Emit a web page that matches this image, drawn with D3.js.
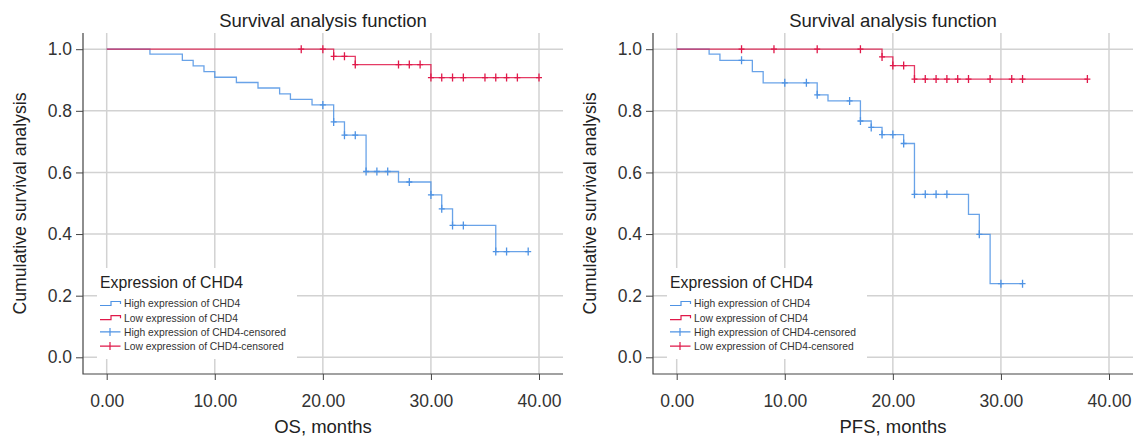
<!DOCTYPE html>
<html>
<head>
<meta charset="utf-8">
<script src="https://cdn.jsdelivr.net/npm/d3@7"></script>
<style>
  body { margin: 0; background: #fff; }
  svg { display: block; font-family: "Liberation Sans", Arial, sans-serif; }
</style>
</head>
<body>
<svg id="chart" width="1136" height="438"></svg>
<script>
// OS panel (left)
const osHighTime = [0, 4, 7, 8, 9, 10, 12, 14, 16, 17, 19, 21, 22, 24, 27, 30, 31, 32, 36]
const osHighSurv = [1, 0.984, 0.964, 0.946, 0.927, 0.909, 0.892, 0.874, 0.855, 0.837, 0.819, 0.764, 0.721, 0.603, 0.569, 0.527, 0.482, 0.428, 0.343]
const osHighEnd = 39
const osHighCensor = [20, 21, 22, 23, 24, 25, 26, 28, 30, 31, 32, 33, 36, 37, 39]
const osLowTime = [0, 21, 23, 30]
const osLowSurv = [1, 0.977, 0.950, 0.908]
const osLowEnd = 40
const osLowCensor = [18, 20, 21, 22, 23, 27, 28, 29, 30, 31, 32, 33, 35, 36, 37, 38, 40]

// PFS panel (right)
const pfsHighTime = [0, 3, 4, 7, 8, 13, 14, 17, 18, 19, 21, 22, 27, 28, 29]
const pfsHighSurv = [1, 0.984, 0.964, 0.927, 0.891, 0.852, 0.832, 0.767, 0.746, 0.723, 0.694, 0.529, 0.464, 0.399, 0.239]
const pfsHighEnd = 32
const pfsHighCensor = [6, 10, 12, 13, 16, 17, 18, 19, 20, 21, 22, 23, 24, 25, 28, 30, 32]
const pfsLowTime = [0, 19, 20, 22]
const pfsLowSurv = [1, 0.975, 0.947, 0.903]
const pfsLowEnd = 38
const pfsLowCensor = [6, 9, 13, 17, 19, 20, 21, 22, 23, 24, 25, 26, 27, 29, 31, 32, 38]

const xTicks = [0, 10, 20, 30, 40]
const yTicks = [0, 0.2, 0.4, 0.6, 0.8, 1.0]
const legendLabels = ['High expression of CHD4', 'Low expression of CHD4', 'High expression of CHD4-censored', 'Low expression of CHD4-censored']

const blue = '#4f93e4'
const red = '#e0194a'
const grid = '#d2d2d2'

const svg = d3.select('#chart')

const drawPanel = (ox, xTitle, high, low) => {
    // frame box (axis lines) in page coords
    const left = ox + 83, right = ox + 563, top = 33, bottom = 374

    const x = d3.scaleLinear().domain([0, 40]).range([ox + 106.7, ox + 539])
    const y = d3.scaleLinear().domain([0, 1]).range([357.3, 49.2])

    const g = svg.append('g')

    // grid
    g.selectAll('.vgrid').data(xTicks).enter().append('line')
        .attr('x1', d => x(d)).attr('x2', d => x(d))
        .attr('y1', top).attr('y2', bottom)
        .attr('stroke', grid).attr('stroke-width', 1.5)
    g.selectAll('.hgrid').data(yTicks).enter().append('line')
        .attr('x1', left).attr('x2', right)
        .attr('y1', d => y(d)).attr('y2', d => y(d))
        .attr('stroke', grid).attr('stroke-width', 1.5)

    // axes
    const xAxis = d3.axisBottom(x).tickValues(xTicks).tickFormat(d3.format('.2f')).tickSizeOuter(0).tickSize(6).tickPadding(15)
    const gx = g.append('g').attr('transform', `translate(0,${bottom})`).call(xAxis)
    const yAxis = d3.axisLeft(y).tickValues(yTicks).tickFormat(d3.format('.1f')).tickSizeOuter(0).tickSize(7).tickPadding(4)
    const gy = g.append('g').attr('transform', `translate(${left},0)`).call(yAxis)
    gx.select('.domain').remove()
    gy.select('.domain').remove()
    ;[gx, gy].forEach(a => {
        a.selectAll('line').attr('stroke', '#444')
        a.selectAll('text').attr('fill', '#333').style('font-size', '17.5px')
    })

    g.append('path')
        .attr('d', `M${left},${top}V${bottom}H${right}`)
        .attr('fill', 'none').attr('stroke', '#444').attr('stroke-width', 1.2)

    // titles
    g.append('text').attr('x', (left + right) / 2).attr('y', 26.5)
        .attr('text-anchor', 'middle').attr('fill', '#222').style('font-size', '18.5px')
        .text('Survival analysis function')
    g.append('text').attr('x', (left + right) / 2).attr('y', 432.5)
        .attr('text-anchor', 'middle').attr('fill', '#222').style('font-size', '18.5px')
        .text(xTitle)
    g.append('text').attr('transform', `translate(${ox + 26},${(top + bottom) / 2}) rotate(-90)`)
        .attr('text-anchor', 'middle').attr('fill', '#222').style('font-size', '17.7px')
        .text('Cumulative survival analysis')

    // curves
    const line = d3.line().x(d => x(d[0])).y(d => y(d[1])).curve(d3.curveStepAfter)
    const survAt = (s, t) => {
        let v = s.surv[0]
        s.time.forEach((tt, i) => { if (tt <= t) v = s.surv[i] })
        return v
    }
    ;[high, low].forEach(s => {
        const pts = s.time.map((t, i) => [t, s.surv[i]])
        pts.push([s.end, s.surv[s.surv.length - 1]])
        g.append('path').attr('d', line(pts))
            .attr('fill', 'none').attr('stroke', s.color).attr('stroke-width', 1.3).attr('stroke-opacity', 0.85)
        g.selectAll(null).data(s.censor).enter().append('path')
            .attr('d', d => {
                const cx = x(d), cy = y(survAt(s, d))
                return `M${cx - 3},${cy}H${cx + 3}M${cx},${cy - 4}V${cy + 4}`
            })
            .attr('stroke', s.color).attr('stroke-width', 1.3).attr('fill', 'none')
    })

    // legend
    const lg = g.append('g').attr('transform', `translate(${ox + 97},268)`)
    lg.append('rect').attr('width', 200).attr('height', 91).attr('fill', '#fff')
    lg.append('text').attr('x', 3).attr('y', 20).attr('fill', '#222').style('font-size', '15.8px')
        .text('Expression of CHD4')
    const colors = [blue, red, blue, red]
    legendLabels.forEach((lab, i) => {
        const cy = 35.5 + i * 14.2
        const icon = i < 2
            ? `M3,${cy + 2}H14V${cy - 2}H23.5V${cy + 0.5}`
            : `M3,${cy}H23.5M13,${cy - 4}V${cy + 4}`
        lg.append('path').attr('d', icon).attr('fill', 'none')
            .attr('stroke', colors[i]).attr('stroke-width', 1.2)
        lg.append('text').attr('x', 27).attr('y', cy + 3.8).attr('fill', '#333')
            .style('font-size', '10.3px').text(lab)
    })
}

drawPanel(0, 'OS, months',
    {time: osHighTime, surv: osHighSurv, end: osHighEnd, censor: osHighCensor, color: blue},
    {time: osLowTime, surv: osLowSurv, end: osLowEnd, censor: osLowCensor, color: red})
drawPanel(570, 'PFS, months',
    {time: pfsHighTime, surv: pfsHighSurv, end: pfsHighEnd, censor: pfsHighCensor, color: blue},
    {time: pfsLowTime, surv: pfsLowSurv, end: pfsLowEnd, censor: pfsLowCensor, color: red})
</script>
</body>
</html>
